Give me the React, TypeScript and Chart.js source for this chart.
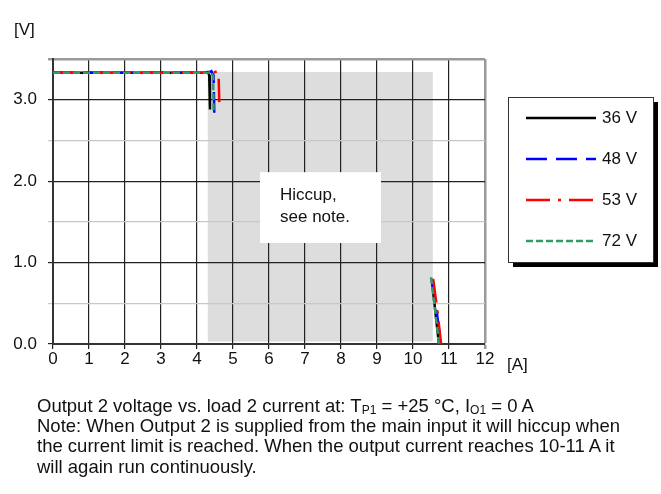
import React, { useEffect, useRef } from "react";
import { Chart, registerables } from "chart.js";

Chart.register(...registerables);

// Data (current in A, voltage in V); null marks the hiccup gap
const seriesNames = ["36 V", "48 V", "53 V", "72 V"];
const cur36 = [0, 4.2, 4.3, 4.34, 4.36, 7, 10.52, 10.62, 10.72];
const volt36 = [3.33, 3.33, 3.34, 3.3, 2.88, null, 0.8, 0.4, 0.0];
const cur48 = [0, 4.3, 4.4, 4.46, 4.48, 7, 10.54, 10.66, 10.77];
const volt48 = [3.33, 3.33, 3.35, 3.3, 2.84, null, 0.78, 0.4, 0.0];
const cur53 = [0, 4.45, 4.55, 4.6, 4.62, 7, 10.56, 10.68, 10.78];
const volt53 = [3.33, 3.33, 3.35, 3.3, 2.97, null, 0.8, 0.4, 0.0];
const cur72 = [0, 4.3, 4.4, 4.45, 4.46, 7, 10.5, 10.62, 10.72];
const volt72 = [3.33, 3.33, 3.34, 3.28, 2.84, null, 0.82, 0.4, 0.0];

const xTicks = [0, 1, 2, 3, 4, 5, 6, 7, 8, 9, 10, 11, 12];
const yTickLabels = ["0.0", "1.0", "2.0", "3.0"];

const hiccupRegion = { x0: 4.3, x1: 10.55, y0: 0.03, y1: 3.34 };
const noteBox = { x0: 5.75, x1: 9.11, y0: 1.24, y1: 2.11 };
const noteLines = ["Hiccup,", "see note."];

const colors = ["#000000", "#0000ff", "#ff0000", "#339966"];
const dashes: number[][] = [[], [21, 9], [24, 8, 3, 8], [7, 3]];
const drawOrder = [3, 2, 1, 0];

const FONT = "'Liberation Sans', Arial, sans-serif";

function toPoints(xs: number[], ys: (number | null)[]) {
  return xs.map((x, i) => ({ x, y: ys[i] }));
}

export default function App() {
  const ref = useRef<HTMLCanvasElement>(null);

  useEffect(() => {
    if (!ref.current) return;
    const curs = [cur36, cur48, cur53, cur72];
    const volts = [volt36, volt48, volt53, volt72];

    const decor = {
      id: "decor",
      beforeDraw(chart: any) {
        const { ctx, scales } = chart;
        const xs = scales.x, ys = scales.y;
        ctx.save();
        ctx.fillStyle = "#dddddd";
        const l = xs.getPixelForValue(hiccupRegion.x0);
        const r = xs.getPixelForValue(hiccupRegion.x1);
        const t = ys.getPixelForValue(hiccupRegion.y1);
        const b = ys.getPixelForValue(hiccupRegion.y0);
        ctx.fillRect(l, t, r - l, b - t);
        ctx.restore();
      },
      beforeDatasetsDraw(chart: any) {
        const { ctx, scales } = chart;
        const xs = scales.x, ys = scales.y;
        ctx.save();
        const l = xs.getPixelForValue(noteBox.x0);
        const r = xs.getPixelForValue(noteBox.x1);
        const t = ys.getPixelForValue(noteBox.y1);
        const b = ys.getPixelForValue(noteBox.y0);
        ctx.fillStyle = "#ffffff";
        ctx.fillRect(l, t, r - l, b - t);
        ctx.fillStyle = "#111";
        ctx.font = `17px ${FONT}`;
        ctx.textBaseline = "alphabetic";
        ctx.textAlign = "left";
        noteLines.forEach((s, i) => ctx.fillText(s, l + 20, t + 28 + i * 22));
        ctx.restore();
      },
      afterDraw(chart: any) {
        const { ctx } = chart;
        ctx.save();
        ctx.fillStyle = "#111";
        ctx.font = `17px ${FONT}`;
        ctx.textBaseline = "middle";
        ctx.textAlign = "left";
        ctx.fillText("[V]", 14, 30);
        ctx.fillText("[A]", 507, 365);
        // legend
        const bx = 508, by = 97, bw = 145, bh = 165;
        ctx.fillStyle = "#000";
        ctx.fillRect(bx + 5, by + 5, bw, bh);
        ctx.fillStyle = "#fff";
        ctx.fillRect(bx, by, bw, bh);
        ctx.strokeStyle = "#333";
        ctx.lineWidth = 1;
        ctx.strokeRect(bx + 0.5, by + 0.5, bw, bh);
        const rows = [118, 159, 200, 241];
        seriesNames.forEach((name, i) => {
          ctx.beginPath();
          ctx.strokeStyle = colors[i];
          ctx.lineWidth = 2.5;
          ctx.setLineDash(dashes[i]);
          ctx.moveTo(526, rows[i]);
          ctx.lineTo(596, rows[i]);
          ctx.stroke();
          ctx.setLineDash([]);
          ctx.fillStyle = "#111";
          ctx.fillText(name, 602, rows[i]);
        });
        ctx.restore();
      },
    };

    const chart = new Chart(ref.current, {
      type: "line",
      data: {
        datasets: seriesNames.map((name, i) => ({
          label: name,
          data: toPoints(curs[i], volts[i]),
          borderColor: colors[i],
          borderWidth: 2.5,
          borderDash: dashes[i],
          pointRadius: 0,
          spanGaps: false,
          tension: 0,
          fill: false,
          order: drawOrder[i],
        })),
      },
      options: {
        animation: false,
        responsive: false,
        devicePixelRatio: 1,
        layout: { padding: { top: 59, right: 176, bottom: 120, left: 0 } },
        plugins: { legend: { display: false }, tooltip: { enabled: false } },
        scales: {
          x: {
            type: "linear",
            min: 0,
            max: 12,
            afterFit: (s: any) => { s.height = 30; },
            afterBuildTicks: (s: any) => { s.ticks = xTicks.map((v) => ({ value: v })); },
            ticks: {
              color: "#111",
              font: { family: FONT, size: 17 },
              padding: 0,
              maxRotation: 0,
              callback: (v: any) => String(v),
            },
            grid: {
              color: (c: any) => (c.tick && c.tick.value === 12 ? "#9a9a9a" : "#222"),
              lineWidth: (c: any) => (c.tick && c.tick.value === 12 ? 2.5 : 1.2),
              tickLength: 5,
            },
            border: { display: true, color: "#333", width: 2 },
          },
          y: {
            type: "linear",
            min: 0,
            max: 3.5,
            afterFit: (s: any) => { s.width = 53; },
            ticks: {
              stepSize: 0.5,
              color: "#111",
              font: { family: FONT, size: 17 },
              padding: 11,
              callback: (v: any) => {
                const n = Number(v);
                return Number.isInteger(n) ? yTickLabels[n] : "";
              },
            },
            grid: {
              color: (c: any) => {
                const v = c.tick ? c.tick.value : 0;
                if (v === 3.5) return "#9a9a9a";
                return Number.isInteger(v) ? "#222" : "#c8c8c8";
              },
              lineWidth: (c: any) => (c.tick && c.tick.value === 3.5 ? 2.5 : 1.2),
              tickLength: 5,
            },
            border: { display: true, color: "#333", width: 2 },
          },
        },
      },
      plugins: [decor],
    } as any);
    return () => chart.destroy();
  }, []);

  const subStyle: React.CSSProperties = { fontSize: 12, verticalAlign: "-2px", lineHeight: 0 };

  return (
    <div style={{ position: "absolute", left: 0, top: 0, width: 661, height: 494, background: "#fff" }}>
      <canvas ref={ref} width={661} height={494} style={{ width: 661, height: 494, display: "block" }} />
      <div
        style={{
          position: "absolute",
          left: 37,
          top: 396,
          fontFamily: FONT,
          fontSize: 18.5,
          lineHeight: "20.2px",
          color: "#111",
          whiteSpace: "nowrap",
        }}
      >
        Output 2 voltage vs. load 2 current at: T<sub style={subStyle}>P1</sub> = +25 °C, I<sub style={subStyle}>O1</sub> = 0 A
        <br />
        Note: When Output 2 is supplied from the main input it will hiccup when
        <br />
        the current limit is reached. When the output current reaches 10-11 A it
        <br />
        will again run continuously.
      </div>
    </div>
  );
}
